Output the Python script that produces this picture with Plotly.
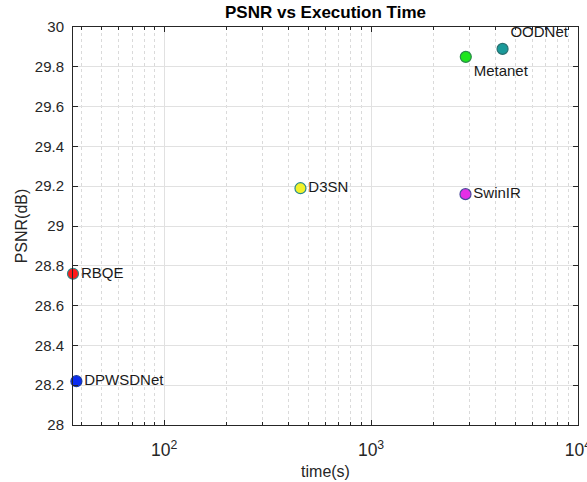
import plotly.graph_objects as go
import math

methods = ["RBQE", "DPWSDNet", "D3SN", "SwinIR", "Metanet", "OODNet"]
times = [36.3, 37.7, 456, 2860, 2870, 4320]
psnr = [28.76, 28.22, 29.19, 29.16, 29.85, 29.89]
colors = ["#ff1a1a", "#0a2cf0", "#f2f22a", "#e62ee6", "#1ee61e", "#1a9a9a"]
edge_colors = ["#2a8a8a", "#1a3aa0", "#2a8a8a", "#4a4a9a", "#2a8a4a", "#2a7070"]
text_pos = ["middle right", "middle right", "middle right", "middle right", "bottom right", "top right"]

FONT = "Liberation Sans, Arial"

fig = go.Figure()
for m, t, p, c, ec, tp in zip(methods, times, psnr, colors, edge_colors, text_pos):
    fig.add_trace(go.Scatter(
        x=[t], y=[p], mode="markers+text", text=[m], textposition=tp,
        marker=dict(size=11, color=c, line=dict(color=ec, width=1.2)),
        textfont=dict(family=FONT, size=15, color="#1a1a1a"),
        showlegend=False, cliponaxis=False,
    ))

axis_common = dict(
    showline=True, linecolor="#262626", linewidth=1, mirror="ticks",
    ticks="inside", ticklen=5, tickcolor="#262626",
    showgrid=True, gridcolor="#e1e1e1", gridwidth=1, zeroline=False,
    automargin=False,
)

fig.update_layout(
    width=587, height=482,
    margin=dict(l=73, r=9, t=27, b=57, autoexpand=False),
    paper_bgcolor="white", plot_bgcolor="white",
    title=dict(text="<b>PSNR vs Execution Time</b>", x=325.5 / 587, xanchor="center",
               y=1 - 12 / 482, yanchor="middle", automargin=False,
               font=dict(family=FONT, size=17, color="#000")),
    xaxis=dict(type="log", range=[math.log10(36.3), 4], dtick=1, exponentformat="power",
               ticklabeloverflow="allow", ticklabelstandoff=10,
               tickfont=dict(family=FONT, size=14, color="#262626"),
               title=dict(text="time(s)", standoff=6,
                          font=dict(family=FONT, size=16, color="#262626")),
               minor=dict(dtick="D1", ticks="inside", ticklen=3, tickcolor="#262626", showgrid=True,
                          gridcolor="#dadada", griddash="dot"),
               **axis_common),
    yaxis=dict(range=[28, 30], dtick=0.2, tick0=28, ticklabelstandoff=5,
               tickfont=dict(family=FONT, size=15, color="#262626"),
               title=dict(text="PSNR(dB)", standoff=3,
                          font=dict(family=FONT, size=16, color="#262626")),
               **axis_common),
)

fig.write_html("out.html", config={"displayModeBar": False})

with open("out.html", "r", encoding="utf-8") as f:
    html = f.read()
html = html.replace("<head>", "<head><style>html,body{margin:0;padding:0;overflow:hidden;}</style>", 1)
with open("out.html", "w", encoding="utf-8") as f:
    f.write(html)
